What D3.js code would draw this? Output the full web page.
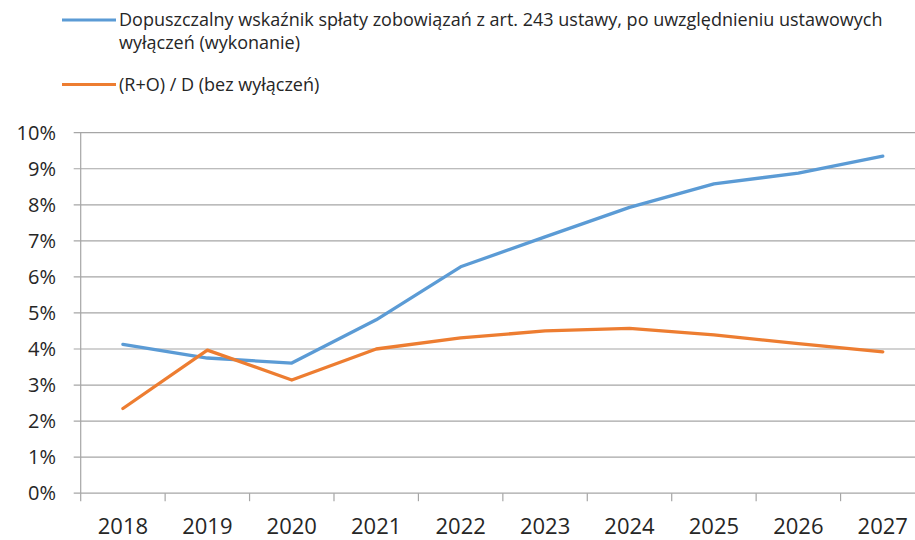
<!DOCTYPE html>
<html>
<head>
<meta charset="utf-8">
<script src="https://cdn.jsdelivr.net/npm/d3@7"></script>
<style>
  body { margin: 0; background: #fff; }
  svg { display: block; font-family: "Open Sans", Lato, sans-serif; }
</style>
</head>
<body>
<div id="chart"></div>
<script>
/* DATA */
const years = ["2018", "2019", "2020", "2021", "2022", "2023", "2024", "2025", "2026", "2027"];
const blueValues = [4.13, 3.75, 3.61, 4.81, 6.28, 7.11, 7.93, 8.58, 8.88, 9.35];
const orangeValues = [2.35, 3.97, 3.14, 4.0, 4.31, 4.5, 4.57, 4.39, 4.15, 3.92];
const yTicks = [0, 1, 2, 3, 4, 5, 6, 7, 8, 9, 10];
const seriesNames = [
  ["Dopuszczalny wskaźnik spłaty zobowiązań z art. 243 ustawy, po uwzględnieniu ustawowych", "wyłączeń (wykonanie)"],
  ["(R+O) / D (bez wyłączeń)"]
];

/* CONSTANTS */
const width = 915,
  height = 540,
  margin = { top: 132.7, bottom: 46.8, left: 80.7, right: -10 };

const series = [
  { name: seriesNames[0], values: blueValues, color: "#5B9BD5" },
  { name: seriesNames[1], values: orangeValues, color: "#ED7D31" }
];

const svg = d3.select("#chart")
  .append("svg")
  .attr("width", width)
  .attr("height", height);

// SCALES
const xScale = d3.scaleBand()
  .domain(years)
  .range([margin.left, width - margin.right]);

const yScale = d3.scaleLinear()
  .domain([0, 10])
  .range([height - margin.bottom, margin.top]);

// GRID
svg.append("g")
  .selectAll("line")
  .data(yTicks)
  .join("line")
  .attr("x1", margin.left - 7)
  .attr("x2", width - margin.right)
  .attr("y1", d => yScale(d))
  .attr("y2", d => yScale(d))
  .attr("stroke", "#a6a6a6")
  .attr("stroke-width", 1.2);

// Y AXIS
svg.append("line")
  .attr("x1", margin.left).attr("x2", margin.left)
  .attr("y1", yScale(10)).attr("y2", yScale(0))
  .attr("stroke", "#a6a6a6")
  .attr("stroke-width", 1.2);

svg.append("g")
  .selectAll("text")
  .data(yTicks)
  .join("text")
  .attr("x", 56)
  .attr("y", d => yScale(d))
  .attr("dy", "0.36em")
  .attr("text-anchor", "end")
  .attr("font-size", 20)
  .attr("fill", "#262626")
  .text(d => d + "%");

// X AXIS ticks (band edges)
const edges = years.map(y => xScale(y)).concat([xScale(years[years.length - 1]) + xScale.bandwidth()]);
svg.append("g")
  .selectAll("line")
  .data(edges)
  .join("line")
  .attr("x1", d => d).attr("x2", d => d)
  .attr("y1", yScale(0)).attr("y2", yScale(0) + 8)
  .attr("stroke", "#a6a6a6")
  .attr("stroke-width", 1.2);

svg.append("g")
  .selectAll("text")
  .data(years)
  .join("text")
  .attr("x", d => xScale(d) + xScale.bandwidth() / 2)
  .attr("y", 534)
  .attr("text-anchor", "middle")
  .attr("font-size", 22)
  .attr("fill", "#262626")
  .text(d => d);

// LINES
const line = d3.line()
  .x((d, i) => xScale(years[i]) + xScale.bandwidth() / 2)
  .y(d => yScale(d));

svg.append("g")
  .selectAll("path")
  .data(series)
  .join("path")
  .attr("d", d => line(d.values))
  .attr("fill", "none")
  .attr("stroke", d => d.color)
  .attr("stroke-width", 3.3)
  .attr("stroke-linejoin", "round")
  .attr("stroke-linecap", "round");

// LEGEND
const legendY = [20, 84.5];
const legend = svg.append("g")
  .selectAll("g")
  .data(series)
  .join("g")
  .attr("transform", (d, i) => `translate(0, ${legendY[i]})`);

legend.append("line")
  .attr("x1", 62).attr("x2", 116)
  .attr("stroke", d => d.color)
  .attr("stroke-width", 3);

legend.append("text")
  .attr("x", 119)
  .attr("y", 6)
  .attr("font-size", 18)
  .attr("fill", "#262626")
  .selectAll("tspan")
  .data(d => d.name)
  .join("tspan")
  .attr("x", 119)
  .attr("dy", (d, i) => i === 0 ? 0 : 23)
  .text(d => d);
</script>
</body>
</html>
